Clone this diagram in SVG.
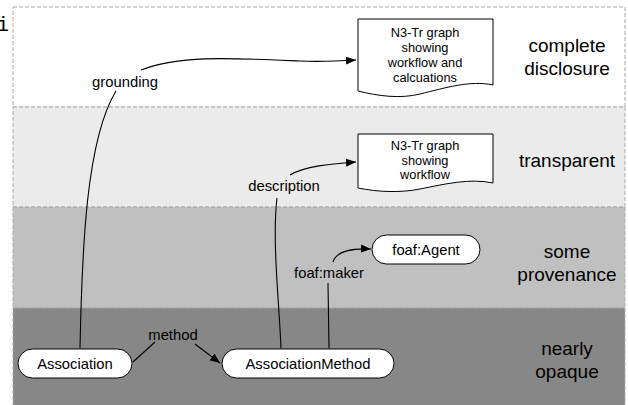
<svg xmlns="http://www.w3.org/2000/svg" width="628" height="405" viewBox="0 0 628 405">
<defs>
<style>
.band{stroke:#aaaaaa;stroke-width:1;stroke-dasharray:4,2}
.node{fill:#ffffff;stroke:#000000;stroke-width:1}
.ntext{font-family:"Liberation Sans",Arial,sans-serif;font-size:14.8px;text-anchor:middle;fill:#000}
.dtext{font-family:"Liberation Sans",Arial,sans-serif;font-size:12.8px;text-anchor:middle;fill:#000}
.ltext{font-family:"Liberation Sans",Arial,sans-serif;font-size:14.8px;text-anchor:middle;fill:#000}
.btext{font-family:"Liberation Sans",Arial,sans-serif;font-size:19px;text-anchor:middle;fill:#000}
.edge{fill:none;stroke:#000;stroke-width:1.1}
</style>
<marker id="arr" viewBox="0 0 10 10" refX="10" refY="5" markerWidth="10" markerHeight="10" markerUnits="userSpaceOnUse" orient="auto">
<path d="M0,1 L10,5 L0,9 Z" fill="#000"/>
</marker>
</defs>
<rect x="0" y="0" width="628" height="405" fill="#ffffff"/>
<text x="-3" y="31" font-family="Liberation Mono, monospace" font-size="20">i</text>
<g id="bands">
<rect class="band" x="13" y="7" width="612" height="100" fill="#ffffff"/>
<rect class="band" x="13" y="107" width="612" height="100" fill="#ebebeb"/>
<rect class="band" x="13" y="207" width="612" height="101" fill="#c0c0c0"/>
<rect class="band" x="13" y="308" width="612" height="100" fill="#878787"/>
<text class="btext" x="567" y="52">complete</text>
<text class="btext" x="567" y="75">disclosure</text>
<text class="btext" x="567" y="167">transparent</text>
<text class="btext" x="567" y="258">some</text>
<text class="btext" x="567" y="281">provenance</text>
<text class="btext" x="567" y="355">nearly</text>
<text class="btext" x="567" y="378">opaque</text>
</g>
<g id="connectors">
<path class="edge" d="M80,348 C82,250 86,140 116,91"/>
<path class="edge" d="M141,70 C180,55 230,58 300,61 C320,62 340,61 356,60" marker-end="url(#arr)"/>
<text class="ltext" x="125" y="87">grounding</text>
<path class="edge" d="M281,348 C279,300 272,240 277,198"/>
<path class="edge" d="M290,175 C305,166 330,164 356,162" marker-end="url(#arr)"/>
<text class="ltext" x="284" y="191">description</text>
<path class="edge" d="M329,348 L328,283"/>
<path class="edge" d="M333,262 C336,252 350,248 371,249" marker-end="url(#arr)"/>
<text class="ltext" x="329" y="278">foaf:maker</text>
<path class="edge" d="M133,362 L155,342"/>
<path class="edge" d="M195,344 L220,363" marker-end="url(#arr)"/>
<text class="ltext" x="173" y="340">method</text>
</g>
<g id="doc-complete">
<path class="node" d="M358,19 H493 V85 C470,80 445,88 420,94 C400,99 378,96 358,91 Z"/>
<text class="dtext" x="425" y="37">N3-Tr graph</text>
<text class="dtext" x="425" y="52">showing</text>
<text class="dtext" x="425" y="67">workflow and</text>
<text class="dtext" x="425" y="82">calcuations</text>
</g>
<g id="doc-transparent">
<path class="node" d="M358,134 H493 V183 C470,178 445,184 420,189 C400,193 378,192 358,188 Z"/>
<text class="dtext" x="425" y="150">N3-Tr graph</text>
<text class="dtext" x="425" y="165">showing</text>
<text class="dtext" x="425" y="179">workflow</text>
</g>
<g id="foaf-agent">
<rect class="node" x="372" y="235" width="108" height="29" rx="14.5" ry="14.5"/>
<text class="ntext" x="426" y="255">foaf:Agent</text>
</g>
<g id="association">
<rect class="node" x="18" y="349" width="114" height="29" rx="14.5" ry="14.5"/>
<text class="ntext" x="75" y="369">Association</text>
</g>
<g id="association-method">
<rect class="node" x="222" y="349" width="172" height="29" rx="14.5" ry="14.5"/>
<text class="ntext" x="308" y="369">AssociationMethod</text>
</g>
</svg>
